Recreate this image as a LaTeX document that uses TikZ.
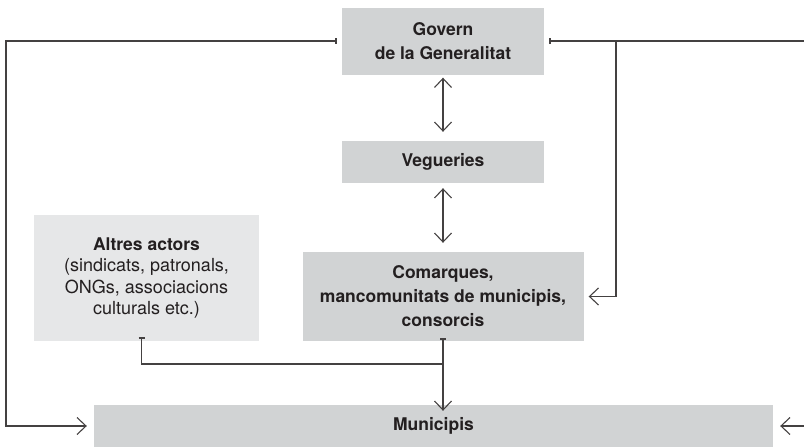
\documentclass[tikz,border=0pt]{standalone}
\usepackage{fontspec}
\setmainfont{TeX Gyre Heros}
\usetikzlibrary{arrows.meta,positioning}
\definecolor{boxgray}{HTML}{D1D3D4}
\definecolor{lightgray}{HTML}{E6E7E8}
\definecolor{ink}{HTML}{231F20}

\begin{document}
\begin{tikzpicture}[x=1pt,y=-1pt]
\tikzset{box/.style={fill=boxgray,align=center,inner sep=0pt,
  text=ink,font=\bfseries\fontsize{17.5}{24}\selectfont}}
\tikzset{lightbox/.style={box,fill=lightgray,font=\fontsize{18}{21.5}\selectfont}}
\tikzset{link/.style={draw=ink!85,line width=1.2pt}}
\tikzset{tip/.tip={Straight Barb[length=9pt,width=17pt,line width=1.1pt]}}
\tikzset{tick/.tip={Bar[width=6pt,line width=1.6pt]}}
\useasboundingbox (0,0) rectangle (804,447);
\node[box,minimum width=202,minimum height=67] (gov) at (443,41) {Govern\\de la Generalitat};
\node[box,minimum width=202,minimum height=42] (veg) at (443,162) {Vegueries};
\node[box,minimum width=281,minimum height=89] (com) at (443,296.5)
  {Comarques,\\mancomunitats de municipis,\\consorcis};
\node[lightbox,minimum width=225,minimum height=126] (alt) at (146.5,278)
  {{\bfseries\fontsize{17.5}{21.5}\selectfont Altres actors}\\(sindicats, patronals,\\ONGs, associacions\\culturals etc.)};
\node[box,minimum width=679,minimum height=42] (mun) at (433.5,426) {Municipis};
% free ends
\coordinate (sw) at (6,426);
\coordinate (ne) at (804,41);
\coordinate (rv) at (616,41);
\coordinate (se) at (804,426);
\coordinate (join) at (443,364);
% connectors
\draw[link,tip-tip,shorten <=3pt,shorten >=9pt] (gov) -- (veg);
\draw[link,tip-tip,shorten <=5pt,shorten >=9pt] (veg) -- (com);
\draw[link,tick-tip] ([xshift=-5pt]gov.west) -| (sw) -- ([xshift=-7pt]mun.west);
\draw[link,tick-] ([xshift=5pt]gov.east) -- (ne);
\draw[link,tip-] ([xshift=5pt]com.east) -| (rv);
\draw[link,tip-] ([xshift=7pt]mun.east) -- (se);
\draw[link,tick-tip] ([yshift=3pt]com.south) -- (join) -- ([yshift=-6pt]com.south |- mun.north);
\draw[link,tick-] ([xshift=-5pt,yshift=4pt]alt.south) |- (join);
\end{tikzpicture}
\end{document}
